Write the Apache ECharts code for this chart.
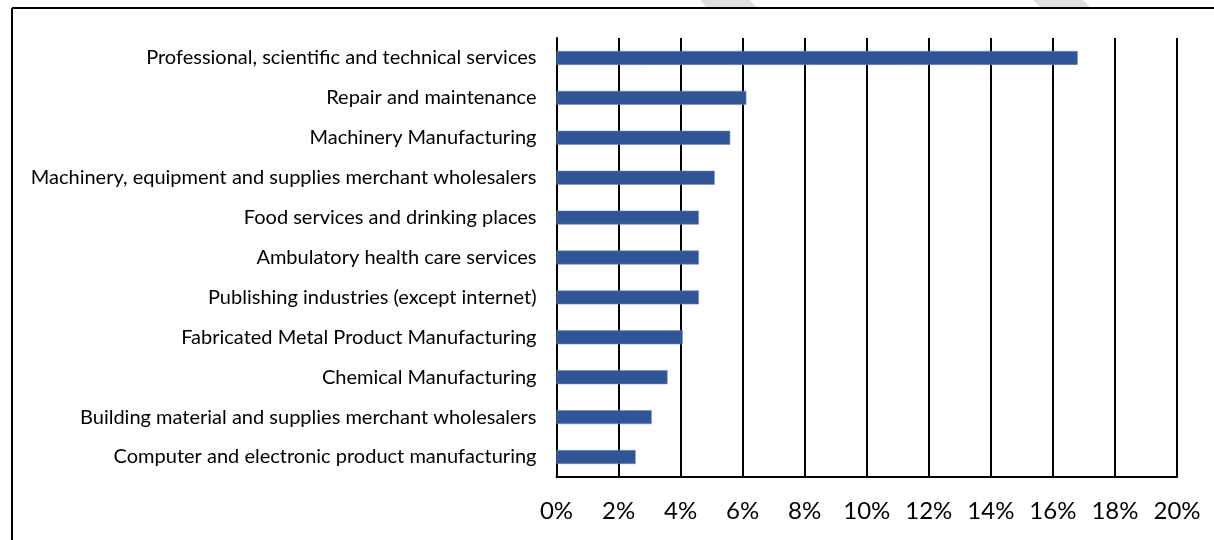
<!DOCTYPE html>
<html>
<head>
<meta charset="utf-8">
<script src="https://cdn.jsdelivr.net/npm/echarts@6/dist/echarts.min.js"></script>
<style>
  html, body { margin: 0; padding: 0; background: #fff; }
  #chart { width: 1214px; height: 540px; }
</style>
</head>
<body>
<div id="chart"></div>
<script>
// Industries, listed top to bottom
const industries = [
  'Professional, scientific and technical services',
  'Repair and maintenance',
  'Machinery Manufacturing',
  'Machinery, equipment and supplies merchant wholesalers',
  'Food services and drinking places',
  'Ambulatory health care services',
  'Publishing industries (except internet)',
  'Fabricated Metal Product Manufacturing',
  'Chemical Manufacturing',
  'Building material and supplies merchant wholesalers',
  'Computer and electronic product manufacturing'
];

// Share of total, in percent
const shares = [16.8, 6.12, 5.6, 5.1, 4.59, 4.59, 4.59, 4.07, 3.58, 3.07, 2.55];

// Value axis range and step (percent)
const axisMin = 0;
const axisMax = 20;
const axisStep = 2;

const chart = echarts.init(document.getElementById('chart'), null, { renderer: 'canvas' });

const fontFamily = 'Lato, "Open Sans", sans-serif';

chart.setOption({
  animation: false,
  backgroundColor: '#ffffff',
  grid: { left: 556.5, right: 37, top: 38, bottom: 63, containLabel: false },
  xAxis: {
    type: 'value',
    min: axisMin,
    max: axisMax,
    interval: axisStep,
    axisLine: { show: true, lineStyle: { color: '#000', width: 2 } },
    axisTick: { show: false },
    splitLine: { show: true, lineStyle: { color: '#000', width: 2 } },
    axisLabel: {
      formatter: '{value}%',
      color: '#000',
      fontFamily: fontFamily,
      fontSize: 24,
      margin: 22
    }
  },
  yAxis: {
    type: 'category',
    data: industries,
    inverse: true,
    axisLine: { show: true, lineStyle: { color: '#000', width: 2 } },
    axisTick: { show: false },
    splitLine: { show: false },
    axisLabel: {
      color: '#000',
      fontFamily: fontFamily,
      fontSize: 20,
      margin: 20
    }
  },
  series: [{
    type: 'bar',
    data: shares,
    barWidth: 14,
    itemStyle: { color: '#2F5597', borderColor: '#6f8cc0', borderWidth: 0.6 },
    z: 3
  }],
  graphic: [
    // faint background stripes above the frame
    { type: 'polygon', z: -1, shape: { points: [[700, 0], [750, 0], [757, 8], [707, 8]] }, style: { fill: '#e0e0e0' } },
    { type: 'polygon', z: -1, shape: { points: [[1033, 0], [1083, 0], [1091, 8], [1041, 8]] }, style: { fill: '#e0e0e0' } },
    // outer frame
    { type: 'line', shape: { x1: 12, y1: 8, x2: 1214, y2: 8 }, style: { stroke: '#000', lineWidth: 2 } },
    { type: 'line', shape: { x1: 12, y1: 8, x2: 12, y2: 540 }, style: { stroke: '#000', lineWidth: 2 } }
  ]
});
</script>
</body>
</html>
